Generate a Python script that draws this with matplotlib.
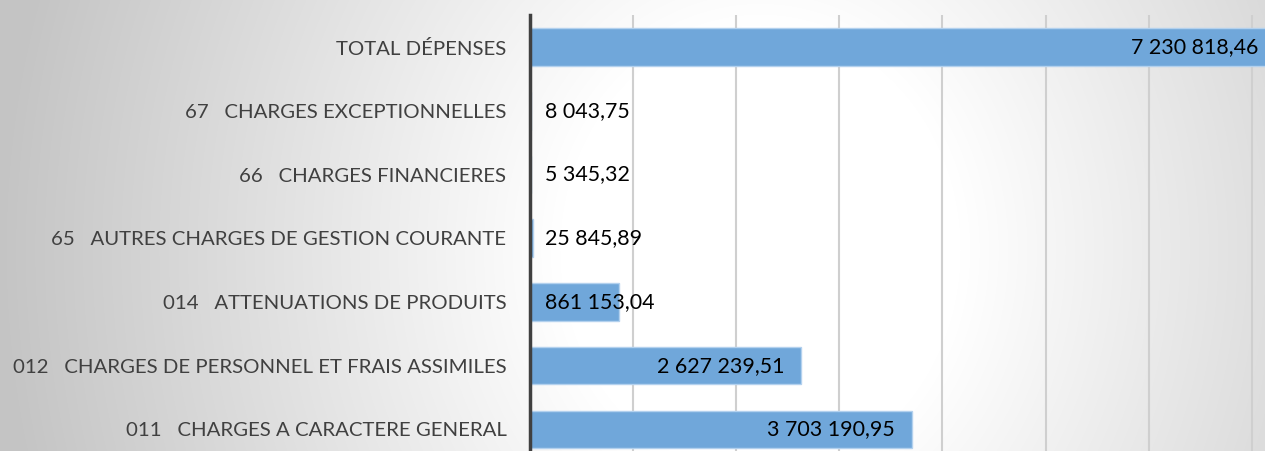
import numpy as np
import matplotlib
matplotlib.use("Agg")
import matplotlib.pyplot as plt

categories = [
    "011   CHARGES A CARACTERE GENERAL",
    "012   CHARGES DE PERSONNEL ET FRAIS ASSIMILES",
    "014   ATTENUATIONS DE PRODUITS",
    "65   AUTRES CHARGES DE GESTION COURANTE",
    "66   CHARGES FINANCIERES",
    "67   CHARGES EXCEPTIONNELLES",
    "TOTAL DÉPENSES",
]
values = [3703190.95, 2627239.51, 861153.04, 25845.89, 5345.32, 8043.75, 7230818.46]
x_ticks = [0, 1e6, 2e6, 3e6, 4e6, 5e6, 6e6, 7e6]

plt.rcParams['font.family'] = ['Lato', 'DejaVu Sans']

W, H = 1265, 451
fig = plt.figure(figsize=(W / 100, H / 100), dpi=100)

# background gradient
bg = fig.add_axes([0, 0, 1, 1], zorder=0)
xx, yy = np.meshgrid(np.arange(W), np.arange(H))
d = np.sqrt(((xx - 760) / 800.0) ** 2 + ((yy - 250) / 900.0) ** 2)
t = np.clip((d - 0.25) / 0.7, 0, 1)
g = 1 - 0.23 * t
bg.imshow(np.dstack([g, g, g]), aspect='auto', extent=[0, W, H, 0])
bg.set_axis_off()

top_px = 15
ax = fig.add_axes([530 / W, 0, 1 - 530 / W, (H - top_px) / H], zorder=1)
ax.patch.set_alpha(0)

y = np.arange(len(categories))
ax.barh(y, values, height=0.59, color='#70a7da', edgecolor='#b3d1ee', linewidth=1, zorder=2)

ax.set_xlim(0, (W - 530) / 103.1 * 1e6)
ax.set_ylim(-0.34, len(categories) - 1 + 0.505)
ax.set_xticks(x_ticks)
ax.set_xticklabels([])
ax.tick_params(axis='x', length=0)
ax.grid(axis='x', color='#cfcfcf', linewidth=1.5, zorder=0)
ax.set_axisbelow(True)

ax.set_yticks(y)
ax.set_yticklabels(categories, fontsize=14.7, color='#404040')
ax.tick_params(axis='y', length=0, pad=17)

for s in ['top', 'right', 'bottom']:
    ax.spines[s].set_visible(False)
ax.spines['left'].set_color('#404040')
ax.spines['left'].set_linewidth(2.5)
ax.spines['left'].set_zorder(5)

def fmt(v):
    return f"{v:,.2f}".replace(",", " ").replace(".", ",")

for yi, v in zip(y, values):
    if v > 1.5e6:
        ax.annotate(fmt(v), xy=(v, yi), xytext=(-12, 0), textcoords='offset points',
                    ha='right', va='center', fontsize=15.4, color='black', zorder=6,
                    annotation_clip=False)
    else:
        ax.annotate(fmt(v), xy=(0, yi), xytext=(11, 0), textcoords='offset points',
                    ha='left', va='center', fontsize=15.4, color='black', zorder=6,
                    annotation_clip=False)

fig.savefig("out.png", dpi=100)
